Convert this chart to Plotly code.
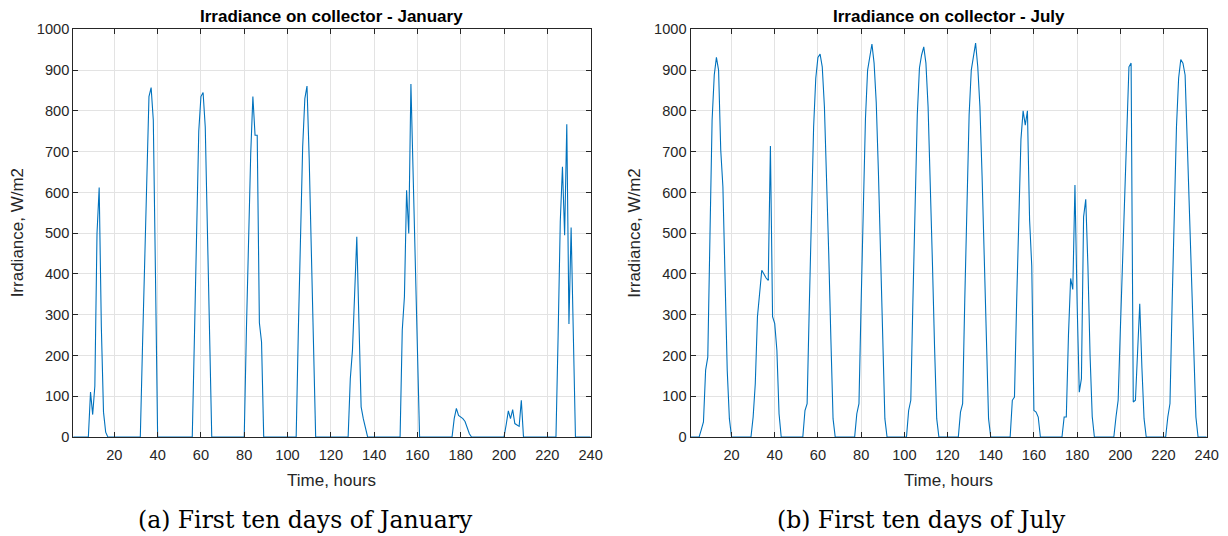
import plotly.graph_objects as go

# ---------------- data ----------------
hours = list(range(1, 241))

# January hourly irradiance on collector, W/m2 (hours 1..240)
jan_vals = {
    9: 110, 10: 55, 11: 125, 12: 500, 13: 612, 14: 270, 15: 61, 16: 12,
    33: 220, 34: 435, 35: 655, 36: 835, 37: 857, 38: 777, 39: 400,
    57: 245, 58: 530, 59: 750, 60: 835, 61: 845, 62: 760, 63: 529, 64: 267,
    81: 261, 82: 487, 83: 695, 84: 835, 85: 740, 86: 740, 87: 280, 88: 233,
    105: 261, 106: 487, 107: 712, 108: 830, 109: 861, 110: 685, 111: 438, 112: 190,
    129: 143, 130: 213, 131: 350, 132: 491, 133: 280, 134: 74, 135: 45, 136: 20,
    153: 262, 154: 344, 155: 605, 156: 499, 157: 866, 158: 657, 159: 448, 160: 240,
    177: 45, 178: 70, 179: 53, 180: 50, 181: 45, 182: 38, 183: 22, 184: 8,
    201: 30, 202: 64, 203: 45, 204: 67, 205: 33, 206: 30, 207: 26, 208: 90,
    225: 250, 226: 530, 227: 663, 228: 495, 229: 767, 230: 277, 231: 514, 232: 256,
}

# July hourly irradiance on collector, W/m2 (hours 1..240)
jul_vals = {
    6: 18, 7: 37, 8: 164, 9: 196, 10: 490, 11: 777, 12: 888, 13: 931, 14: 900,
    15: 704, 16: 614, 17: 385, 18: 164, 19: 45,
    30: 49, 31: 131, 32: 295, 33: 360, 34: 409, 35: 400, 36: 390, 37: 384,
    38: 714, 39: 295, 40: 278, 41: 213, 42: 57,
    54: 65, 55: 82, 56: 320, 57: 560, 58: 760, 59: 880, 60: 931, 61: 939,
    62: 908, 63: 810, 64: 650, 65: 450, 66: 240, 67: 45,
    78: 57, 79: 82, 80: 330, 81: 580, 82: 780, 83: 900, 84: 937, 85: 964,
    86: 917, 87: 820, 88: 650, 89: 440, 90: 230, 91: 45,
    102: 65, 103: 90, 104: 340, 105: 590, 106: 790, 107: 905, 108: 937, 109: 957,
    110: 917, 111: 810, 112: 640, 113: 430, 114: 220, 115: 45,
    126: 61, 127: 82, 128: 340, 129: 590, 130: 790, 131: 900, 132: 933, 133: 966,
    134: 908, 135: 810, 136: 640, 137: 430, 138: 220, 139: 45,
    150: 90, 151: 98, 152: 330, 153: 560, 154: 730, 155: 800, 156: 765, 157: 800,
    158: 532, 159: 420, 160: 65, 161: 61, 162: 49,
    174: 49, 175: 49, 176: 250, 177: 389, 178: 362, 179: 618, 180: 330, 181: 110,
    182: 143, 183: 540, 184: 583, 185: 420, 186: 200, 187: 50,
    198: 49, 199: 90, 200: 260, 201: 430, 202: 600, 203: 760, 204: 908, 205: 917,
    206: 86, 207: 90, 208: 200, 209: 327, 210: 170, 211: 45,
    222: 49, 223: 82, 224: 330, 225: 560, 226: 760, 227: 880, 228: 926, 229: 917,
    230: 888, 231: 723, 232: 560, 233: 395, 234: 231, 235: 49,
}

january = [jan_vals.get(h, 0) for h in hours]
july = [jul_vals.get(h, 0) for h in hours]

x_ticks = [20, 40, 60, 80, 100, 120, 140, 160, 180, 200, 220, 240]
y_ticks = [0, 100, 200, 300, 400, 500, 600, 700, 800, 900, 1000]

titles = ["Irradiance on collector - January", "Irradiance on collector - July"]
captions = ["(a) First ten days of January", "(b) First ten days of July"]
xlabel = "Time, hours"
ylabel = "Irradiance, W/m2"

# ---------------- figure ----------------
W, H = 1228, 536
LINE = "#0072BD"
AX = "#262626"
GRID = "#e3e3e3"
SANS = "Liberation Sans, Arial, sans-serif"

# plot areas in pixels
left_px = (73.2, 590.6)
right_px = (690.5, 1206.7)
top_px, bot_px = 29.3, 437.0

def px_x(p):
    return p / W

def px_y(p):
    return 1 - p / H

fig = go.Figure()
fig.add_trace(go.Scatter(x=hours, y=january, mode="lines",
                         line=dict(color=LINE, width=1.1), xaxis="x", yaxis="y",
                         showlegend=False))
fig.add_trace(go.Scatter(x=hours, y=july, mode="lines",
                         line=dict(color=LINE, width=1.1), xaxis="x2", yaxis="y2",
                         showlegend=False))

tickfont = dict(family=SANS, size=14.6, color=AX)

def xaxis_cfg(dom, anchor):
    return dict(domain=[px_x(dom[0]), px_x(dom[1])], anchor=anchor, automargin=False,
                range=[1, 240], tickvals=x_ticks, ticks="inside", ticklen=5,
                tickcolor=AX, tickwidth=1, showline=True, linecolor=AX, linewidth=1,
                mirror="allticks", showgrid=True, gridcolor=GRID, gridwidth=1,
                zeroline=False, tickfont=tickfont, ticklabelstandoff=4)

def yaxis_cfg(anchor):
    return dict(domain=[px_y(bot_px), px_y(top_px)], anchor=anchor, automargin=False,
                range=[0, 1000], tickvals=y_ticks, ticks="inside", ticklen=5,
                tickcolor=AX, tickwidth=1, showline=True, linecolor=AX, linewidth=1,
                mirror="allticks", showgrid=True, gridcolor=GRID, gridwidth=1,
                zeroline=False, tickfont=tickfont)

fig.update_layout(
    width=W, height=H, margin=dict(l=0, r=0, t=0, b=0, autoexpand=False),
    paper_bgcolor="white", plot_bgcolor="white",
    xaxis=xaxis_cfg(left_px, "y"), yaxis=yaxis_cfg("x"),
    xaxis2=xaxis_cfg(right_px, "y2"), yaxis2=yaxis_cfg("x2"),
)

ann = []
for i, (dom, ttl, cap) in enumerate(zip([left_px, right_px], titles, captions)):
    cx = (dom[0] + dom[1]) / 2
    ann.append(dict(text="<b>%s</b>" % ttl, x=px_x(cx), y=px_y(16.5), xref="paper", yref="paper",
                    xanchor="center", yanchor="middle", showarrow=False,
                    font=dict(family=SANS, size=17, color="#000000")))
    ann.append(dict(text=xlabel, x=px_x(cx), y=px_y(480), xref="paper", yref="paper",
                    xanchor="center", yanchor="middle", showarrow=False,
                    font=dict(family=SANS, size=17, color=AX)))
    ann.append(dict(text=ylabel, x=px_x(dom[0] - 56), y=px_y((top_px + bot_px) / 2),
                    xref="paper", yref="paper", xanchor="center", yanchor="middle",
                    textangle=-90, showarrow=False,
                    font=dict(family=SANS, size=17, color=AX)))
    cap_cx = [305, 921][i]
    ann.append(dict(text=cap, x=px_x(cap_cx), y=px_y(520), xref="paper", yref="paper",
                    xanchor="center", yanchor="middle", showarrow=False,
                    font=dict(family="DejaVu Serif, serif", size=23.5, color="#000000")))
fig.update_layout(annotations=ann)

fig.write_html("out.html")
